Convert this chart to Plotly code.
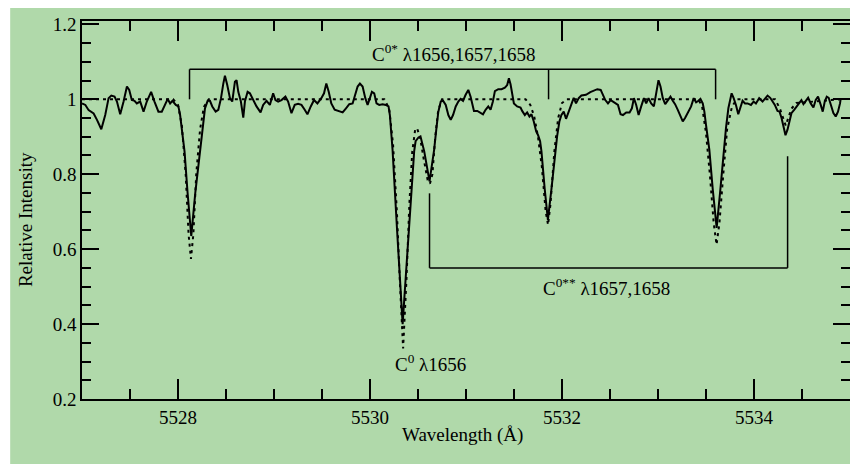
import plotly.graph_objects as go

# Observed spectrum (solid)
wavelength_obs = [
    5527.000, 5527.035, 5527.069, 5527.121, 5527.156, 5527.201, 5527.242, 5527.277, 5527.305, 5527.339,
    5527.364, 5527.398, 5527.433, 5527.468, 5527.492, 5527.519, 5527.547, 5527.571, 5527.606, 5527.641,
    5527.675, 5527.720, 5527.755, 5527.796, 5527.831, 5527.866, 5527.893, 5527.918, 5527.942, 5527.977,
    5528.004, 5528.022, 5528.039, 5528.056, 5528.068, 5528.100, 5528.138, 5528.180, 5528.229, 5528.254,
    5528.281, 5528.309, 5528.333, 5528.357, 5528.392, 5528.420, 5528.448, 5528.472, 5528.489, 5528.513,
    5528.541, 5528.565, 5528.593, 5528.610, 5528.628, 5528.655, 5528.680, 5528.697, 5528.725, 5528.749,
    5528.783, 5528.818, 5528.860, 5528.887, 5528.922, 5528.957, 5528.991, 5529.015, 5529.043, 5529.078,
    5529.119, 5529.147, 5529.182, 5529.216, 5529.251, 5529.286, 5529.320, 5529.348, 5529.383, 5529.417,
    5529.452, 5529.493, 5529.521, 5529.545, 5529.570, 5529.597, 5529.632, 5529.667, 5529.690, 5529.715,
    5529.750, 5529.784, 5529.819, 5529.847, 5529.871, 5529.895, 5529.923, 5529.951, 5529.975, 5529.999,
    5530.020, 5530.044, 5530.068, 5530.096, 5530.131, 5530.165, 5530.193, 5530.207, 5530.221, 5530.235,
    5530.280, 5530.322, 5530.340, 5530.356, 5530.410, 5530.460, 5530.475, 5530.490, 5530.505, 5530.526,
    5530.546, 5530.565, 5530.620, 5530.668, 5530.692, 5530.712, 5530.737, 5530.761, 5530.789, 5530.816,
    5530.841, 5530.865, 5530.893, 5530.920, 5530.944, 5530.969, 5530.996, 5531.024, 5531.048, 5531.066,
    5531.083, 5531.118, 5531.152, 5531.177, 5531.204, 5531.232, 5531.256, 5531.280, 5531.301, 5531.336,
    5531.370, 5531.405, 5531.429, 5531.447, 5531.464, 5531.481, 5531.499, 5531.533, 5531.568, 5531.585,
    5531.613, 5531.637, 5531.661, 5531.682, 5531.706, 5531.731, 5531.751, 5531.772, 5531.786, 5531.820,
    5531.853, 5531.890, 5531.931, 5531.949, 5531.973, 5531.994, 5532.018, 5532.042, 5532.070, 5532.098,
    5532.122, 5532.146, 5532.174, 5532.202, 5532.250, 5532.295, 5532.340, 5532.368, 5532.403, 5532.427,
    5532.451, 5532.479, 5532.507, 5532.531, 5532.555, 5532.583, 5532.610, 5532.635, 5532.669, 5532.704,
    5532.728, 5532.749, 5532.773, 5532.798, 5532.825, 5532.853, 5532.877, 5532.901, 5532.929, 5532.957,
    5532.981, 5533.005, 5533.026, 5533.050, 5533.075, 5533.102, 5533.130, 5533.154, 5533.178, 5533.206,
    5533.234, 5533.258, 5533.282, 5533.310, 5533.345, 5533.372, 5533.397, 5533.421, 5533.442, 5533.466,
    5533.483, 5533.500, 5533.518, 5533.535, 5533.570, 5533.611, 5533.650, 5533.684, 5533.708, 5533.733,
    5533.753, 5533.767, 5533.788, 5533.812, 5533.836, 5533.857, 5533.881, 5533.906, 5533.933, 5533.968,
    5533.996, 5534.020, 5534.054, 5534.089, 5534.113, 5534.141, 5534.169, 5534.193, 5534.217, 5534.245,
    5534.266, 5534.287, 5534.307, 5534.328, 5534.349, 5534.366, 5534.390, 5534.418, 5534.446, 5534.470,
    5534.494, 5534.515, 5534.539, 5534.564, 5534.591, 5534.619, 5534.643, 5534.667, 5534.695, 5534.716,
    5534.737, 5534.758, 5534.778, 5534.799, 5534.827, 5534.851, 5534.875, 5534.896, 5534.903,
]
intensity_obs = [
    0.989, 0.985, 0.971, 0.962, 0.945, 0.920, 0.958, 1.003, 1.010, 1.007,
    0.994, 0.960, 0.994, 1.034, 1.025, 0.998, 0.996, 0.989, 0.994, 0.967,
    0.994, 1.020, 0.994, 0.967, 0.967, 0.989, 1.001, 0.989, 0.996, 0.985,
    0.981, 0.958, 0.923, 0.888, 0.861, 0.750, 0.635, 0.750, 0.865, 0.914,
    0.976, 0.996, 0.996, 0.981, 0.967, 0.972, 1.003, 1.042, 1.063, 1.038,
    1.003, 0.994, 1.047, 1.051, 1.020, 0.994, 0.951, 0.994, 1.020, 1.016,
    0.998, 0.981, 0.965, 0.985, 0.996, 0.985, 1.016, 0.998, 0.994, 0.998,
    1.007, 0.994, 0.963, 0.985, 0.988, 0.985, 0.972, 0.960, 0.981, 0.998,
    0.989, 1.003, 1.016, 1.042, 1.020, 0.989, 0.972, 0.969, 0.968, 0.965,
    0.976, 0.987, 0.989, 1.012, 1.034, 1.042, 1.034, 1.003, 0.985, 1.003,
    1.020, 1.016, 0.989, 0.985, 0.987, 0.985, 0.981, 0.958, 0.914, 0.865,
    0.660, 0.463, 0.400, 0.463, 0.680, 0.861, 0.888, 0.895, 0.898, 0.901,
    0.883, 0.861, 0.781, 0.865, 0.923, 0.967, 0.994, 0.996, 0.985, 0.958,
    0.945, 0.958, 0.981, 0.994, 1.001, 0.996, 1.012, 1.025, 1.007, 0.985,
    0.969, 0.969, 0.965, 0.960, 0.972, 0.981, 0.972, 0.994, 1.022, 1.027,
    1.027, 1.031, 1.038, 1.056, 1.040, 1.012, 0.989, 0.981, 0.978, 0.969,
    0.958, 0.965, 0.954, 0.960, 0.941, 0.914, 0.904, 0.888, 0.861, 0.760,
    0.678, 0.760, 0.861, 0.901, 0.941, 0.958, 0.967, 0.948, 0.967, 0.989,
    1.004, 0.989, 1.003, 1.010, 1.012, 1.019, 1.024, 1.027, 1.025, 1.012,
    0.998, 0.989, 0.998, 0.994, 0.989, 0.985, 0.960, 0.958, 0.965, 0.965,
    0.976, 1.003, 0.985, 0.958, 0.981, 1.003, 0.989, 1.003, 0.989, 0.981,
    1.016, 1.051, 1.034, 1.003, 0.987, 0.996, 1.007, 0.996, 0.987, 0.972,
    0.954, 0.941, 0.950, 0.963, 0.981, 1.003, 0.992, 0.996, 1.001, 0.989,
    0.967, 0.932, 0.896, 0.865, 0.760, 0.657, 0.760, 0.865, 0.923, 0.976,
    1.004, 1.016, 1.003, 0.985, 0.960, 0.976, 0.996, 0.989, 0.989, 0.985,
    0.994, 0.989, 1.003, 0.994, 1.003, 1.010, 1.004, 0.996, 0.985, 0.969,
    0.967, 0.950, 0.923, 0.904, 0.919, 0.941, 0.963, 0.972, 0.981, 0.989,
    0.998, 0.987, 0.994, 1.004, 0.989, 0.978, 0.998, 1.007, 0.985, 0.967,
    0.994, 1.007, 1.004, 0.985, 0.963, 0.954, 0.967, 0.989, 1.001,
]

# Model spectrum (dotted)
wavelength_model = [
    5527.000, 5527.950, 5528.000, 5528.040, 5528.080, 5528.110, 5528.135, 5528.160, 5528.190, 5528.230,
    5528.270, 5528.320, 5530.150, 5530.200, 5530.240, 5530.280, 5530.310, 5530.345, 5530.380, 5530.410,
    5530.440, 5530.470, 5530.490, 5530.520, 5530.560, 5530.600, 5530.625, 5530.650, 5530.680, 5530.710,
    5530.750, 5531.620, 5531.670, 5531.710, 5531.750, 5531.790, 5531.830, 5531.855, 5531.880, 5531.920,
    5531.960, 5532.000, 5532.050, 5533.420, 5533.460, 5533.500, 5533.540, 5533.580, 5533.610, 5533.640,
    5533.680, 5533.720, 5533.770, 5533.820, 5534.220, 5534.270, 5534.330, 5534.390, 5534.440, 5534.900,
]
intensity_model = [
    1.000, 1.000, 0.985, 0.930, 0.800, 0.640, 0.574, 0.640, 0.800, 0.920,
    0.980, 1.000, 1.000, 0.975, 0.880, 0.700, 0.520, 0.335, 0.520, 0.720,
    0.860, 0.918, 0.923, 0.900, 0.840, 0.785, 0.775, 0.800, 0.900, 0.970,
    1.000, 1.000, 0.985, 0.955, 0.900, 0.820, 0.700, 0.665, 0.720, 0.860,
    0.950, 0.990, 1.000, 1.000, 0.980, 0.910, 0.800, 0.670, 0.612, 0.670,
    0.800, 0.920, 0.980, 1.000, 1.000, 0.975, 0.930, 0.975, 0.990, 1.000,
]

# Line identifications
cstar_lines = [5528.12, 5531.86, 5533.60]      # C0* 1656,1657,1658
cstar_bracket_level = 1.08
cstarstar_lines = [5530.62, 5534.35]           # C0** 1657,1658
cstarstar_tops = [0.749, 0.848]
cstarstar_bracket_level = 0.55

x_ticks = [5528, 5530, 5532, 5534]
x_ticklabels = ["5528", "5530", "5532", "5534"]
y_ticks = [0.2, 0.4, 0.6, 0.8, 1.0, 1.2]
y_ticklabels = ["0.2", "0.4", "0.6", "0.8", "1", "1.2"]

GREEN = "#b0d9aa"
FONT = "Liberation Serif"
FS = 19

# The page body adds an 8px offset; the figure is sized to fill the rest of the window.
W, H = 850, 456
ML, MR, MT, MB = 74, 6, 11, 65
PW, PH = W - ML - MR, H - MT - MB

fig = go.Figure()
fig.add_trace(go.Scatter(x=wavelength_model, y=intensity_model, mode="lines",
                         line=dict(color="black", width=2, dash="3px,4px"),
                         hoverinfo="skip", showlegend=False))
fig.add_trace(go.Scatter(x=wavelength_obs, y=intensity_obs, mode="lines",
                         line=dict(color="black", width=2),
                         hoverinfo="skip", showlegend=False))

shapes = []
lw = 1.5
shapes.append(dict(type="line", xref="x", yref="y", x0=cstar_lines[0], x1=cstar_lines[-1],
                   y0=cstar_bracket_level, y1=cstar_bracket_level, line=dict(color="black", width=lw)))
for xl in cstar_lines:
    shapes.append(dict(type="line", xref="x", yref="y", x0=xl, x1=xl, y0=1.0, y1=cstar_bracket_level,
                       line=dict(color="black", width=lw)))
shapes.append(dict(type="line", xref="x", yref="y", x0=cstarstar_lines[0], x1=cstarstar_lines[-1],
                   y0=cstarstar_bracket_level, y1=cstarstar_bracket_level, line=dict(color="black", width=lw)))
for xl, yt in zip(cstarstar_lines, cstarstar_tops):
    shapes.append(dict(type="line", xref="x", yref="y", x0=xl, x1=xl, y0=cstarstar_bracket_level, y1=yt,
                       line=dict(color="black", width=lw)))
# thin white strip on the left edge of the original image
shapes.append(dict(type="rect", xref="paper", yref="paper", x0=-ML / PW - 0.01, x1=(2 - ML) / PW,
                   y0=-MB / PH - 0.01, y1=1 + MT / PH + 0.01, fillcolor="white", line=dict(width=0),
                   layer="above"))


def px_x(px):
    return (px - 8 - ML) / PW


def px_y(py):
    return (H - MB - (py - 8)) / PH


def label(text, x, y, xref, yref, angle=0):
    return dict(x=x, y=y, xref=xref, yref=yref, showarrow=False, text=text, textangle=angle,
                xanchor="center", yanchor="middle",
                font=dict(family=FONT, size=FS, color="black"))


annotations = [
    label("C<sup>0*</sup> λ1656,1657,1658", 5530.865, 1.123, "x", "y"),
    label("C<sup>0**</sup> λ1657,1658", 5532.465, 0.498, "x", "y"),
    label("C<sup>0</sup> λ1656", 5530.625, 0.296, "x", "y"),
    label("Wavelength (Å)", px_x(463), px_y(435), "paper", "paper"),
    label("Relative Intensity", px_x(26), px_y(219), "paper", "paper", angle=-90),
]

fig.update_layout(
    width=W, height=H,
    margin=dict(l=ML, r=MR, t=MT, b=MB),
    paper_bgcolor=GREEN, plot_bgcolor=GREEN,
    font=dict(family=FONT, size=FS, color="black"),
    shapes=shapes, annotations=annotations,
    xaxis=dict(range=[5527, 5535], tickvals=x_ticks, ticktext=x_ticklabels,
               ticks="inside", ticklen=20, tickwidth=1.5, tickcolor="black",
               minor=dict(dtick=0.5, tick0=5527, ticks="inside", ticklen=10, tickwidth=1.5, tickcolor="black"),
               showline=True, linecolor="black", linewidth=1.5, mirror="allticks",
               showgrid=False, zeroline=False, tickfont=dict(family=FONT, size=FS)),
    yaxis=dict(range=[0.2, 1.209], tickvals=y_ticks, ticktext=y_ticklabels,
               ticks="inside", ticklen=17, tickwidth=1.5, tickcolor="black",
               minor=dict(dtick=0.05, tick0=0.2, ticks="inside", ticklen=9, tickwidth=1.5, tickcolor="black"),
               showline=True, linecolor="black", linewidth=1.5, mirror="allticks",
               showgrid=False, zeroline=False, tickfont=dict(family=FONT, size=FS)),
)

fig.write_html("out.html")
